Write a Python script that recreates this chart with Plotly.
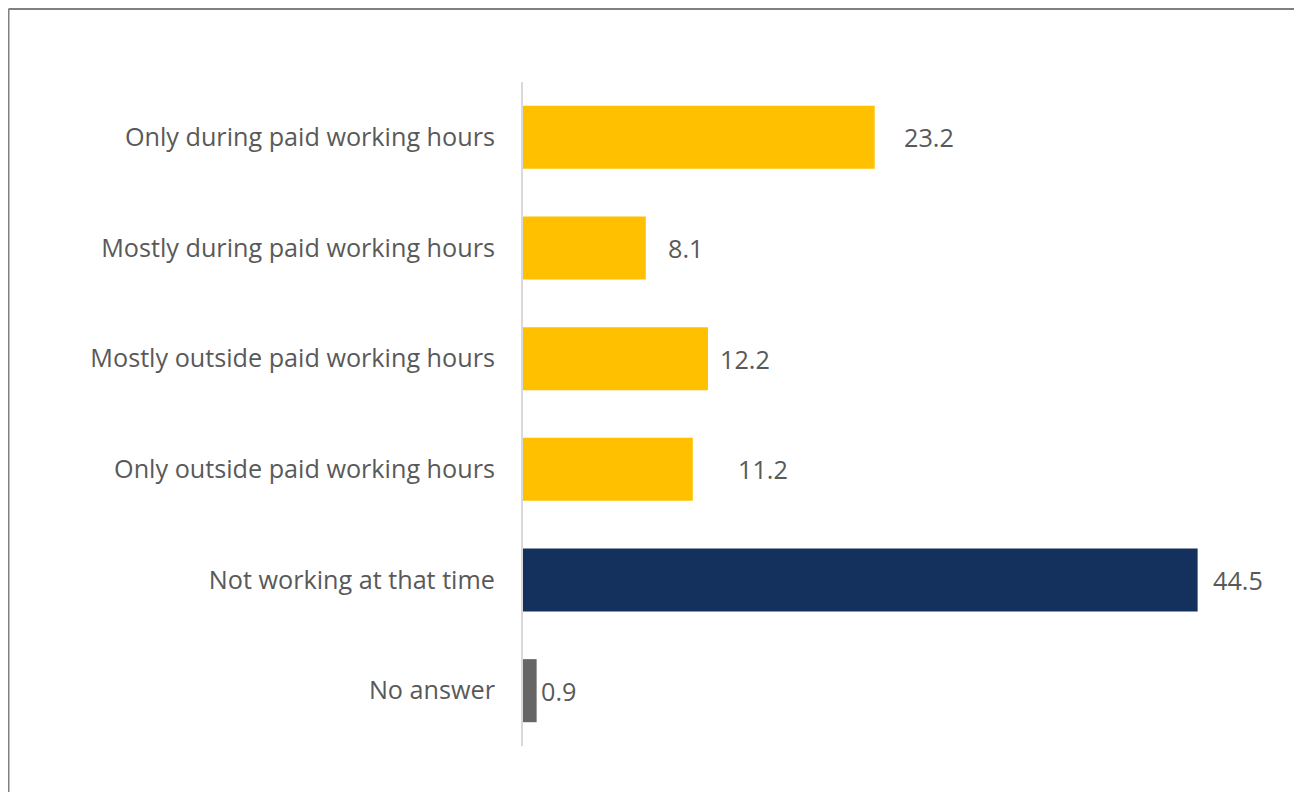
import plotly.graph_objects as go

categories = [
    "Only during paid working hours",
    "Mostly during paid working hours",
    "Mostly outside paid working hours",
    "Only outside paid working hours",
    "Not working at that time",
    "No answer",
]
values = [23.2, 8.1, 12.2, 11.2, 44.5, 0.9]
bar_colors = ["#FFC000", "#FFC000", "#FFC000", "#FFC000", "#13315C", "#666666"]
# manual label nudges (px) as in the original chart
label_shift = [27, 20, 10, 43, 13, 2]

FONT = "Open Sans"
FSIZE = 25.2
W, H = 1294, 784
L, R, T, B = 515, 21, 74, 46
pw = W - L - R
ph = H - T - B

fig = go.Figure(
    go.Bar(
        y=categories,
        x=values,
        orientation="h",
        marker=dict(color=bar_colors, line=dict(width=0)),
        width=0.57,
        hoverinfo="x+y",
    )
)

for cat, v, s in zip(categories, values, label_shift):
    fig.add_annotation(
        x=v, y=cat, text=f"{v:.1f}", showarrow=False,
        xanchor="left", xshift=s, yshift=0,
        font=dict(family=FONT, size=FSIZE, color="#595959"),
    )

# outer frame (left and top edges only, like the source image)
fx0 = (0.5 - L) / pw
fy0 = 1 + (T - 1) / ph
fig.add_shape(type="line", xref="paper", yref="paper", x0=fx0, x1=fx0,
              y0=fy0, y1=-B / ph, line=dict(color="#808080", width=2))
fig.add_shape(type="line", xref="paper", yref="paper", x0=fx0, x1=1 + R / pw,
              y0=fy0, y1=fy0, line=dict(color="#808080", width=2))

fig.update_layout(
    width=W, height=H,
    margin=dict(l=L, r=R, t=T, b=B, autoexpand=False),
    plot_bgcolor="white", paper_bgcolor="white",
    showlegend=False,
    font=dict(family=FONT, size=FSIZE, color="#595959"),
    xaxis=dict(range=[0, 50], visible=False, showgrid=False, zeroline=False),
    yaxis=dict(
        autorange="reversed", showgrid=False, zeroline=False,
        showline=True, linecolor="#D9D9D9", linewidth=2,
        ticks="", ticklabelstandoff=21,
        tickfont=dict(family=FONT, size=FSIZE, color="#595959"),
    ),
)

fig.write_html("out.html")
